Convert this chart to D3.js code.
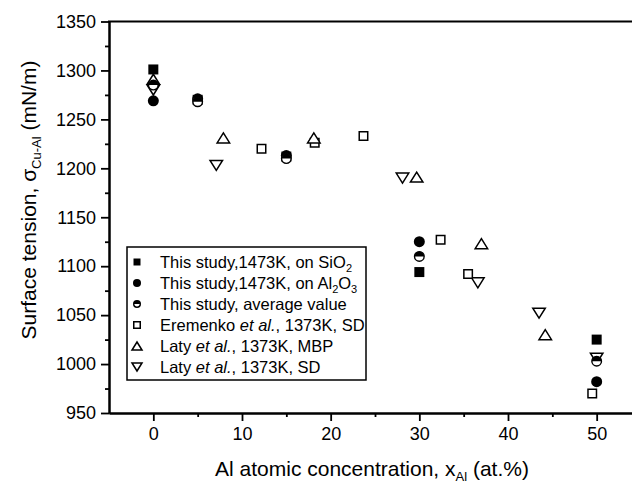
<!DOCTYPE html>
<html lang="en">
<head>
    <meta charset="UTF-8">
    <title>Surface tension Cu-Al</title>
    <script src="https://d3js.org/d3.v7.min.js"></script>
    <style>
        body {margin: 0; background: white;}
        text {font-family: "Liberation Sans", Arial, sans-serif; fill: black;}
    </style>
</head>
<body>
<div id="chart"></div>
<script>
// Data
var sio2X = [0, 5, 15, 30, 50];
var sio2Y = [1301, 1270, 1212, 1094, 1025];

var al2o3X = [0, 5, 15, 30, 50];
var al2o3Y = [1269, 1271, 1213, 1125, 982];

var avgX = [0, 5, 15, 30, 50];
var avgY = [1285, 1268, 1210, 1110, 1003];

var eremenkoX = [12.2, 18.2, 23.7, 32.4, 35.5, 49.5];
var eremenkoY = [1220, 1226, 1233, 1127, 1092, 970];

var latyMbpX = [0, 7.9, 18.1, 29.7, 37.0, 44.2];
var latyMbpY = [1291, 1231, 1231, 1191, 1123, 1030];

var latySdX = [0, 7.1, 28.1, 36.6, 43.5, 50];
var latySdY = [1280, 1203, 1190, 1083, 1052, 1006];

var xTicks = [0, 10, 20, 30, 40, 50];
var xMinor = [5, 15, 25, 35, 45];
var yTicks = [950, 1000, 1050, 1100, 1150, 1200, 1250, 1300, 1350];
var yMinor = [975, 1025, 1075, 1125, 1175, 1225, 1275, 1325];

var width = 632, height = 486;

var svg = d3.select("#chart").append("svg")
    .attr("width", width)
    .attr("height", height);

// Scales
var x = d3.scaleLinear().domain([-5, 55]).range([109, 641]);
var y = d3.scaleLinear().domain([950, 1350]).range([413, 21.5]);

// Marker shapes
function markerPath(type, s) {
    var h = s / 2;
    if (type == "square") {
        return "M" + (-h) + "," + (-h) + "H" + h + "V" + h + "H" + (-h) + "Z";
    }
    var w = s * 0.5, t = s * 0.4;
    if (type == "up") {
        return "M0," + (-t) + "L" + w + "," + t + "L" + (-w) + "," + t + "Z";
    }
    if (type == "down") {
        return "M0," + t + "L" + w + "," + (-t) + "L" + (-w) + "," + (-t) + "Z";
    }
    return "";
}

function drawMarker(g, type, cx, cy, s) {
    var m = g.append("g").attr("transform", "translate(" + cx + "," + cy + ")");
    if (type == "filledSquare") {
        m.append("path").attr("d", markerPath("square", s)).attr("fill", "black");
    } else if (type == "openSquare") {
        m.append("path").attr("d", markerPath("square", s - 1.5))
            .attr("fill", "white").attr("stroke", "black").attr("stroke-width", 1.5);
    } else if (type == "circle") {
        m.append("circle").attr("r", s / 2).attr("fill", "black");
    } else if (type == "half") {
        var r = s / 2 - 0.7;
        m.append("circle").attr("r", r).attr("fill", "white");
        m.append("path")
            .attr("d", "M" + (-r) + ",0A" + r + "," + r + " 0 0 1 " + r + ",0Z")
            .attr("fill", "black");
        m.append("circle").attr("r", r).attr("fill", "none")
            .attr("stroke", "black").attr("stroke-width", 1.4);
    } else if (type == "up" || type == "down") {
        m.append("path").attr("d", markerPath(type, s))
            .attr("fill", "white").attr("stroke", "black").attr("stroke-width", 1.5)
            .attr("stroke-linejoin", "miter");
    }
}

// Axes
var fmt = d3.format("d");
var xAxis = d3.axisBottom(x).tickValues(xTicks).tickFormat(fmt).tickSize(8).tickSizeOuter(0).tickPadding(6);
var xAxisMinor = d3.axisBottom(x).tickValues(xMinor).tickSize(4).tickSizeOuter(0).tickFormat("");
var yAxis = d3.axisLeft(y).tickValues(yTicks).tickFormat(fmt).tickSize(8).tickSizeOuter(0).tickPadding(5);
var yAxisMinor = d3.axisLeft(y).tickValues(yMinor).tickSize(4).tickSizeOuter(0).tickFormat("");

svg.append("g").attr("transform", "translate(0," + y(950) + ")").call(xAxis);
svg.append("g").attr("transform", "translate(0," + y(950) + ")").call(xAxisMinor);
svg.append("g").attr("transform", "translate(" + x(-5) + ",0)").call(yAxis);
svg.append("g").attr("transform", "translate(" + x(-5) + ",0)").call(yAxisMinor);

svg.selectAll(".domain").attr("stroke-width", 2);
svg.selectAll(".tick line").attr("stroke-width", 1.8);
svg.selectAll(".tick text")
    .style("font-family", "'Liberation Sans', Arial, sans-serif")
    .style("font-size", "18px");

// top frame line
svg.append("line")
    .attr("x1", x(-5) - 1).attr("x2", width)
    .attr("y1", y(1350)).attr("y2", y(1350))
    .attr("stroke", "black").attr("stroke-width", 2);

// Axis titles
var yTitle = svg.append("text")
    .attr("transform", "translate(36,200) rotate(-90)")
    .attr("text-anchor", "middle")
    .style("font-size", "21px");
yTitle.append("tspan").text("Surface tension, \u03C3");
yTitle.append("tspan").attr("dy", 5).style("font-size", "13px").text("Cu-Al");
yTitle.append("tspan").attr("dy", -5).text(" (mN/m)");

var xTitle = svg.append("text")
    .attr("x", 372).attr("y", 476)
    .attr("text-anchor", "middle")
    .style("font-size", "21px");
xTitle.append("tspan").text("Al atomic concentration, x");
xTitle.append("tspan").attr("dy", 5).style("font-size", "13px").text("Al");
xTitle.append("tspan").attr("dy", -5).text(" (at.%)");

// Data points: literature first, this study on top
var plot = svg.append("g");
var series = [
    {xs: latySdX, ys: latySdY, type: "down", size: 12.5},
    {xs: eremenkoX, ys: eremenkoY, type: "openSquare", size: 10},
    {xs: latyMbpX, ys: latyMbpY, type: "up", size: 12.5},
    {xs: sio2X, ys: sio2Y, type: "filledSquare", size: 10},
    {xs: al2o3X, ys: al2o3Y, type: "circle", size: 11},
    {xs: avgX, ys: avgY, type: "half", size: 11}
];
series.forEach(function(s) {
    s.xs.forEach(function(v, i) {
        drawMarker(plot, s.type, x(v), y(s.ys[i]), s.size);
    });
});

// Legend
var legend = svg.append("g");
legend.append("rect")
    .attr("x", 127).attr("y", 247)
    .attr("width", 239).attr("height", 133)
    .attr("fill", "white").attr("stroke", "black").attr("stroke-width", 1.5);

var legendTypes = ["filledSquare", "circle", "half", "openSquare", "up", "down"];
var legendSizes = [7, 8, 8, 8, 10, 10];
legendTypes.forEach(function(t, i) {
    drawMarker(legend, t, 137, 262 + i * 21, legendSizes[i]);
});

function legendText(i) {
    return legend.append("text")
        .attr("x", 160).attr("y", 262 + i * 21)
        .attr("dy", "0.36em")
        .style("font-size", "16.5px");
}
var t0 = legendText(0);
t0.append("tspan").text("This study,1473K, on SiO");
t0.append("tspan").attr("dy", 4).style("font-size", "11px").text("2");

var t1 = legendText(1);
t1.append("tspan").text("This study,1473K, on Al");
t1.append("tspan").attr("dy", 4).style("font-size", "11px").text("2");
t1.append("tspan").attr("dy", -4).text("O");
t1.append("tspan").attr("dy", 4).style("font-size", "11px").text("3");

legendText(2).text("This study, average value");

var t3 = legendText(3);
t3.append("tspan").text("Eremenko ");
t3.append("tspan").style("font-style", "italic").text("et al.");
t3.append("tspan").text(", 1373K, SD");

var t4 = legendText(4);
t4.append("tspan").text("Laty ");
t4.append("tspan").style("font-style", "italic").text("et al.");
t4.append("tspan").text(", 1373K, MBP");

var t5 = legendText(5);
t5.append("tspan").text("Laty ");
t5.append("tspan").style("font-style", "italic").text("et al.");
t5.append("tspan").text(", 1373K, SD");
</script>
</body>
</html>
